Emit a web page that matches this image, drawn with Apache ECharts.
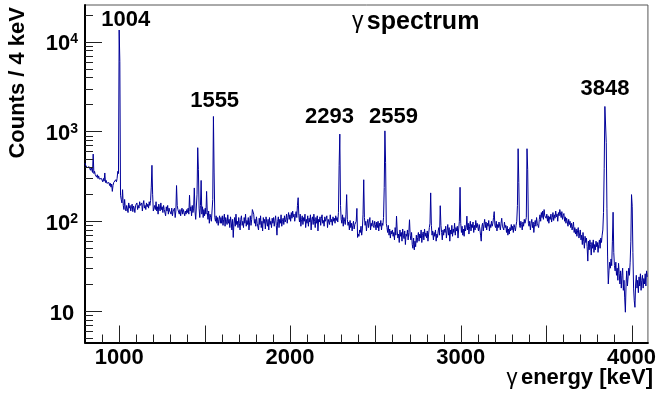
<!DOCTYPE html>
<html><head><meta charset="utf-8">
<script src="https://cdn.jsdelivr.net/npm/echarts@6/dist/echarts.min.js"></script>
<style>html,body{margin:0;padding:0;background:#fff;}#c{width:659px;height:398px;}</style>
</head><body><div id="c"></div>
<script>
// histogram: counts per 4 keV bin, first bin starts at 800 keV
const BIN_START = 800;
const BIN_WIDTH = 4;
const counts = [
445,420,430,395,410,380,405,390,370,400,385,350,560,340,360,330,345,310,330,300,320,295,310,285,300,
290,275,300,280,345,270,285,265,275,255,270,250,265,240,260,215,250,270,280,265,290,275,300,360,340,
13500,6000,195,175,160,225,150,135,175,140,130,150,145,125,160,140,150,130,145,155,128,148,140,125,150,
145,160,135,150,140,165,150,145,160,130,155,170,140,150,135,160,145,155,140,165,150,170,240,420,200,
130,125,150,135,165,130,145,120,155,140,130,160,135,145,125,150,135,140,115,145,130,150,120,140,130,
135,120,140,115,130,125,140,110,130,250,150,135,130,120,135,115,130,140,120,135,125,115,130,120,135,
125,140,120,195,130,145,115,150,125,140,235,130,105,110,200,660,375,140,110,150,285,120,145,110,135,
115,140,120,215,125,105,130,95,120,110,100,100,175,1470,345,110,100,115,95,110,90,105,115,95,110,
95,115,90,105,120,88,110,100,92,118,95,105,85,112,98,80,105,66,95,110,88,120,92,100,85,
110,95,80,105,115,90,100,85,110,95,120,88,102,92,110,80,98,115,90,105,135,142,120,95,105,
88,112,95,100,80,108,92,115,85,100,78,110,95,105,82,112,98,88,105,80,110,92,100,85,108,
95,110,88,102,115,90,70,100,112,85,105,95,118,88,100,108,92,115,98,105,120,95,110,125,105,
118,100,125,108,130,112,120,100,115,128,110,150,183,115,98,120,88,105,115,92,110,100,120,85,105,
95,115,88,108,98,118,80,105,112,92,120,100,85,110,95,115,78,105,98,112,90,108,118,95,102,
88,112,100,95,115,85,105,110,92,118,98,105,90,112,100,108,95,115,102,110,98,125,420,935,150,
105,95,118,88,110,100,92,120,198,105,90,98,80,102,85,95,78,90,100,82,92,90,100,139,66,
72,68,80,75,88,70,82,120,290,110,90,100,78,95,105,85,98,110,80,95,88,102,90,85,100,
92,80,98,85,100,78,95,88,102,80,95,90,110,237,1016,450,95,85,75,90,70,82,65,78,72,
80,68,75,62,85,70,114,78,65,72,58,80,68,75,60,82,70,64,78,55,72,68,80,62,75,
104,70,62,75,55,50,65,48,60,52,70,58,66,75,60,72,65,80,58,70,76,62,82,68,74,
65,78,60,72,85,95,207,90,70,78,62,75,68,80,60,72,66,78,85,70,149,90,75,62,80,
70,82,75,88,65,78,92,70,85,60,80,72,90,68,82,75,95,70,85,78,88,65,82,100,239,
95,75,88,70,82,68,90,78,85,114,80,95,72,88,100,78,92,85,98,75,90,80,102,85,95,
100,78,92,82,70,60,88,95,78,92,105,85,98,80,95,88,102,78,92,85,100,88,95,110,128,
90,85,100,78,92,85,98,102,80,95,108,88,92,80,98,85,90,75,88,70,82,72,85,78,92,
80,88,75,92,85,78,90,100,150,643,270,90,85,100,92,80,98,88,105,95,100,110,643,375,95,
88,100,80,95,105,85,98,75,92,102,88,110,95,100,85,105,118,100,125,110,130,105,135,115,120,
108,120,100,115,95,112,105,120,98,110,125,102,118,108,130,112,120,100,125,115,135,142,110,128,105,
115,122,100,112,95,108,98,88,105,92,100,85,95,80,88,98,75,85,72,82,68,78,85,65,72,
80,62,70,55,75,60,50,68,58,65,52,36,60,48,62,55,42,58,50,62,45,55,48,60,52,
58,45,55,62,50,65,58,70,80,125,390,1900,1850,750,140,40,20,28,35,30,38,32,60,126,45,
32,28,35,25,30,22,34,26,20,28,18,25,30,17,22,14,9.7,20,28,19,24,30,25,35,60,
198,147,45,18,13,11,20,25,18,22,16,24,19,26,17,22,25,18,23,20,26,19,28,24
];
const xRange = [800, 4096];
const yRange = [4.46, 25650];
const xMajorTicks = [1000,1500,2000,2500,3000,3500,4000];
const xLabels = [1000,2000,3000,4000];
const xMinorTicks = [900,1100,1200,1300,1400,1600,1700,1800,1900,2100,2200,2300,2400,2600,2700,2800,2900,3100,3200,3300,3400,3600,3700,3800,3900];
const yLabels = [10,100,1000,10000];
const yMinorTicks = [5,6,7,8,9,20,30,40,50,60,70,80,90,200,300,400,500,600,700,800,900,2000,3000,4000,5000,6000,7000,8000,9000,20000];
const peakNames = ['1004','1555','2293','2559','3848'];
const peakNameE = [1039,1559,2232,2606,3845];
const peakNameCounts = [17400,2193,1468,1468,3000];
const titleText = 'spectrum';
const xTitle = 'energy [keV]';
const yTitle = 'Counts / 4 keV';

const FONT = '"Liberation Sans", Arial, Helvetica, sans-serif';
const hist = counts.map((c, i) => [BIN_START + i * BIN_WIDTH, c]);
hist.push([BIN_START + counts.length * BIN_WIDTH, counts[counts.length - 1]]);

const chart = echarts.init(document.getElementById('c'), null, {renderer: 'canvas'});
const tickColor = '#222';

// tick marks drawn through the axes' own coordinate mapping
function xTickSeries(values, len) {
  return {type: 'custom', xAxisIndex: 0, yAxisIndex: 0, clip: false, silent: true, z: 5,
    data: values.map(v => [v, yRange[0]]),
    renderItem: (params, api) => {
      const p = api.coord([api.value(0), api.value(1)]);
      const x = Math.round(p[0]) + 0.5;
      return {type: 'line', shape: {x1: x, y1: p[1], x2: x, y2: p[1] - len}, style: {stroke: tickColor, lineWidth: 1}};
    }};
}
function yTickSeries(values, len) {
  return {type: 'custom', xAxisIndex: 0, yAxisIndex: 0, clip: false, silent: true, z: 5,
    data: values.map(v => [xRange[0], v]),
    renderItem: (params, api) => {
      const p = api.coord([api.value(0), api.value(1)]);
      const y = Math.round(p[1]) + 0.5;
      return {type: 'line', shape: {x1: p[0], y1: y, x2: p[0] + len, y2: y}, style: {stroke: tickColor, lineWidth: 1}};
    }};
}

const option = {
  animation: false,
  backgroundColor: '#fff',
  grid: {left: 85, top: 5, width: 568, height: 337.5, show: true, borderColor: '#555', borderWidth: 1, containLabel: false},
  xAxis: {type: 'value', min: xRange[0], max: xRange[1], position: 'bottom',
     axisLine: {show: true, onZero: false, lineStyle: {color: '#000', width: 2}},
     axisTick: {show: false},
     axisLabel: {show: true, customValues: xLabels, formatter: v => String(v), margin: 4, fontSize: 22, fontWeight: 'bold', fontFamily: FONT, color: '#000'},
     splitLine: {show: false}},
  yAxis: {type: 'log', logBase: 10, min: yRange[0], max: yRange[1], position: 'left',
     axisLine: {show: true, onZero: false, lineStyle: {color: '#000', width: 2}},
     axisTick: {show: false},
     axisLabel: {show: true, customValues: yLabels, margin: 7, color: '#000',
       formatter: function (v) {
         const e = Math.round(Math.log10(v));
         return e === 1 ? '{b|10}{s| }' : '{b|10}{s|' + e + '}';
       },
       rich: {
         b: {fontSize: 22, fontWeight: 'bold', fontFamily: FONT, color: '#000', verticalAlign: 'bottom', lineHeight: 22},
         s: {fontSize: 14, fontWeight: 'bold', fontFamily: FONT, color: '#000', verticalAlign: 'top', lineHeight: 27, padding: [4, 0, 0, 0]}
       }},
     splitLine: {show: false}},
  series: [
    {type: 'line', data: hist, step: 'end', symbol: 'none', clip: true, z: 3,
     lineStyle: {color: '#000099', width: 1}},
    xTickSeries(xMajorTicks, 17),
    xTickSeries(xMinorTicks, 8),
    yTickSeries(yLabels, 17),
    yTickSeries(yMinorTicks, 8),
    {type: 'scatter', symbolSize: 0, silent: true, z: 6,
     itemStyle: {opacity: 1},
     data: peakNames.map((n, i) => ({value: [peakNameE[i], peakNameCounts[i]], name: n})),
     label: {show: true, position: 'inside', opacity: 1, formatter: p => p.name, fontSize: 22, fontWeight: 'bold', fontFamily: FONT, color: '#000'}}
  ],
  graphic: [
    {type: 'text', x: 352, y: 22,
     style: {text: '{g|γ} {b|' + titleText + '}', verticalAlign: 'middle', align: 'left',
       rich: {g: {fontSize: 23, fontFamily: FONT, fontWeight: 'normal', fill: '#000'},
              b: {fontSize: 25, fontFamily: FONT, fontWeight: 'bold', fill: '#000'}}}},
    {type: 'text', x: 653, y: 377.5,
     style: {text: '{g|γ} {b|' + xTitle + '}', verticalAlign: 'middle', align: 'right',
       rich: {g: {fontSize: 22, fontFamily: FONT, fontWeight: 'normal', fill: '#000'},
              b: {fontSize: 22, fontFamily: FONT, fontWeight: 'bold', fill: '#000'}}}},
    {type: 'text', x: 17.5, y: 7, rotation: Math.PI / 2,
     style: {text: yTitle, fontSize: 22, fontWeight: 'bold', fontFamily: FONT, fill: '#000', align: 'right', verticalAlign: 'middle'}}
  ]
};
chart.setOption(option);
</script>
</body></html>
